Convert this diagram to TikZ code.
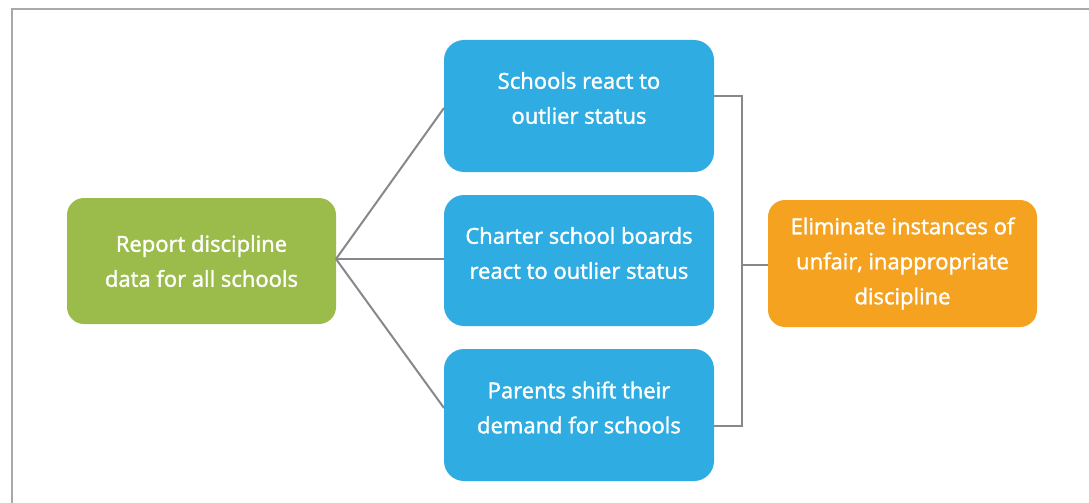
\documentclass[tikz,border=0pt]{standalone}
\usepackage{fontspec}
\setmainfont{Open Sans}
\newfontfamily\boxfont{Open Sans}[FakeBold=1.6]
\usetikzlibrary{calc}
\definecolor{cblue}{HTML}{2FACE1}
\definecolor{cgreen}{HTML}{9BBB4B}
\definecolor{corange}{HTML}{F4A21F}
\definecolor{cline}{HTML}{87888A}
\definecolor{cframe}{HTML}{A7A9AC}
\tikzset{
  box/.style={rectangle, rounded corners=20pt, inner sep=0pt, outer sep=0pt,
    minimum width=270pt, minimum height=132pt, text=white, align=center,
    font=\boxfont\fontsize{22pt}{35pt}\selectfont},
  conn/.style={draw=cline, line width=2pt},
}
\begin{document}
\begin{tikzpicture}[x=1pt,y=1pt]
\useasboundingbox (0,0) rectangle (1089,-503);
\clip (0,0) rectangle (1089,-503);
\draw[cframe, line width=2.5pt] (12,-9) rectangle (1200,-700);
% boxes
\node[box, fill=cgreen, minimum width=269pt, minimum height=126pt, rounded corners=17pt] (g) at (201.5,-261) {Report discipline\\data for all schools};
\node[box, fill=cblue] (b1) at (579,-106) {};
\node[box, fill=cblue, minimum height=131pt] (b2) at (579,-260.5) {};
\node[box, fill=cblue] (b3) at (579,-415) {};
\node[box, fill=corange, minimum width=269pt, minimum height=127pt, rounded corners=17pt] (o) at (902.5,-263.5) {Eliminate instances of\\unfair, inappropriate\\discipline};
\node[box, minimum width=0pt, minimum height=0pt, anchor=center] (b1t) at ([yshift=8pt]b1.center) {Schools react to\\outlier status};
\node[box, minimum width=0pt, minimum height=0pt, anchor=center] (b2t) at ([yshift=7.5pt]b2.center) {Charter school boards\\react to outlier status};
\node[box, minimum width=0pt, minimum height=0pt, anchor=center] (b3t) at ([yshift=7.5pt]b3.center) {Parents shift their\\demand for schools};
% connectors
\coordinate (apex) at ([yshift=2pt]g.east);
\draw[conn] (apex) -- ([yshift=-2pt]b1.west);
\draw[conn] (apex) -- (apex -| b2.west);
\draw[conn] (apex) -- ([yshift=7pt]b3.west);
\coordinate (top) at ([yshift=10pt]b1.east);
\coordinate (bot) at ([yshift=-11pt]b3.east);
\draw[conn] (top) -- ++(28,0) coordinate (tr) -- (tr |- bot) -- (bot);
\draw[conn] ([yshift=-1.5pt]o.west -| tr) -- ([yshift=-1.5pt]o.west);
\end{tikzpicture}
\end{document}
